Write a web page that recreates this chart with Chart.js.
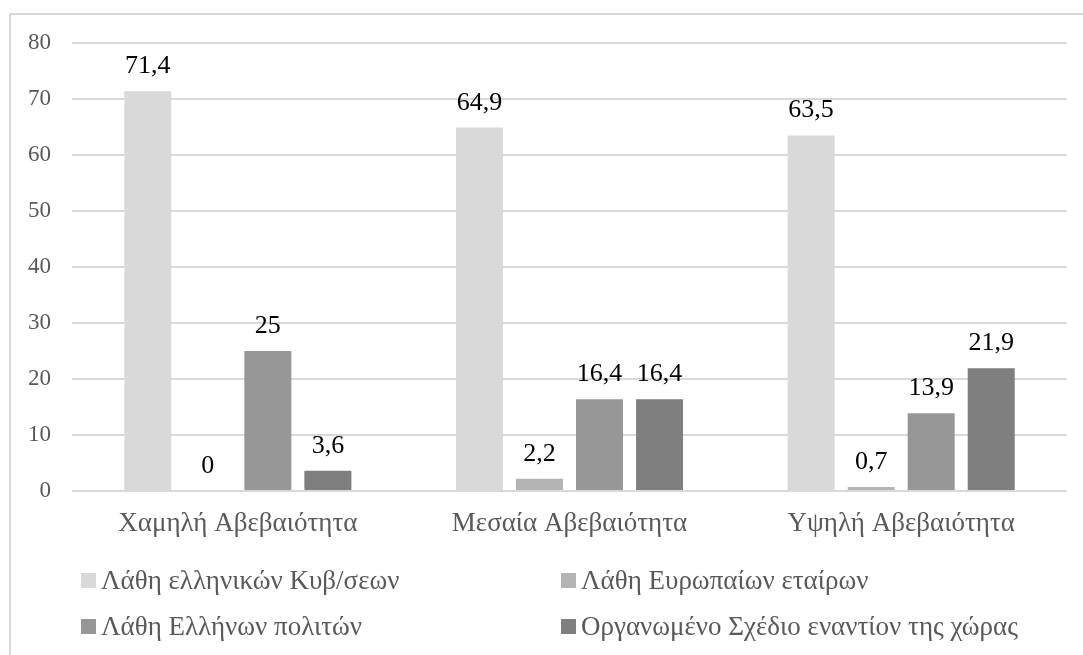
<!DOCTYPE html>
<html>
<head>
<meta charset="utf-8">
<script src="https://cdn.jsdelivr.net/npm/chart.js@4"></script>
<style>
  html, body { margin: 0; padding: 0; background: #fff; }
  #wrap { position: relative; width: 1083px; height: 655px; overflow: hidden; }
  #frame { position: absolute; left: 9px; top: 13px; width: 1100px; height: 700px;
           border: 2px solid #d9d9d9; box-sizing: border-box; }
  #chart { position: absolute; left: 0; top: 0; }
  .leg { position: absolute; font-family: "Liberation Serif", serif; font-size: 27px;
         color: #595959; white-space: nowrap; line-height: 27px; }
  .leg span { display: inline-block; width: 15px; height: 15px; margin-right: 5px;
              vertical-align: 1px; }
</style>
</head>
<body>
<div id="wrap">
  <div id="frame"></div>
  <canvas id="chart" width="1083" height="655"></canvas>
  <div id="legend"></div>
</div>
<script>
(function() {
    'use strict';

    var categories = ['Χαμηλή Αβεβαιότητα', 'Μεσαία Αβεβαιότητα', 'Υψηλή Αβεβαιότητα'];
    var seriesNames = [
        'Λάθη ελληνικών Κυβ/σεων',
        'Λάθη Ευρωπαίων εταίρων',
        'Λάθη Ελλήνων πολιτών',
        'Οργανωμένο Σχέδιο εναντίον της χώρας'
    ];
    var greekGovErrors = [71.4, 64.9, 63.5];
    var euPartnerErrors = [0, 2.2, 0.7];
    var citizenErrors = [25, 16.4, 13.9];
    var organizedPlan = [3.6, 16.4, 21.9];
    var yTicks = [0, 10, 20, 30, 40, 50, 60, 70, 80];

    var colors = ['#d9d9d9', '#b4b4b4', '#979797', '#7f7f7f'];
    var serif = '"Liberation Serif", "Times New Roman", serif';

    var values = [greekGovErrors, euPartnerErrors, citizenErrors, organizedPlan];
    var datasets = values.map(function(v, i) {
        return {
            label: seriesNames[i],
            data: v,
            backgroundColor: colors[i],
            categoryPercentage: 0.724,
            barPercentage: 0.783
        };
    });

    // values over the bars, Greek decimal comma
    var barLabels = {
        id: 'barLabels',
        afterDatasetsDraw: function(chart) {
            var ctx = chart.ctx;
            ctx.save();
            ctx.font = '26px ' + serif;
            ctx.fillStyle = '#000';
            ctx.textAlign = 'center';
            ctx.textBaseline = 'alphabetic';
            chart.data.datasets.forEach(function(ds, i) {
                chart.getDatasetMeta(i).data.forEach(function(bar, j) {
                    var txt = String(ds.data[j]).replace('.', ',');
                    ctx.fillText(txt, bar.x, bar.y - 18);
                });
            });
            ctx.restore();
        }
    };

    var ctx = document.getElementById('chart').getContext('2d');
    new Chart(ctx, {
        type: 'bar',
        data: { labels: categories, datasets: datasets },
        options: {
            responsive: false,
            animation: false,
            layout: { padding: { left: 0, right: 16, top: 43, bottom: 112 } },
            plugins: {
                legend: { display: false },
                tooltip: { enabled: false }
            },
            scales: {
                x: {
                    afterFit: function(scale) { scale.height = 52; },
                    grid: { display: false, drawTicks: false },
                    border: { display: false },
                    ticks: {
                        color: '#595959',
                        font: { family: serif, size: 27 },
                        padding: 17,
                        maxRotation: 0
                    }
                },
                y: {
                    min: 0,
                    max: 80,
                    afterBuildTicks: function(scale) {
                        scale.ticks = yTicks.map(function(v) { return { value: v }; });
                    },
                    afterFit: function(scale) { scale.width = 72; },
                    grid: { color: '#d9d9d9', lineWidth: 2, drawTicks: false },
                    border: { display: false },
                    ticks: {
                        color: '#595959',
                        font: { family: serif, size: 23 },
                        padding: 21
                    }
                }
            }
        },
        plugins: [barLabels]
    });

    // two-column legend like the original
    var legend = document.getElementById('legend');
    var spots = [[81, 567], [561, 567], [81, 613], [561, 613]];
    seriesNames.forEach(function(name, i) {
        var d = document.createElement('div');
        d.className = 'leg';
        d.style.left = spots[i][0] + 'px';
        d.style.top = spots[i][1] + 'px';
        d.innerHTML = '<span style="background:' + colors[i] + '"></span>';
        d.appendChild(document.createTextNode(name));
        legend.appendChild(d);
    });
})();
</script>
</body>
</html>
